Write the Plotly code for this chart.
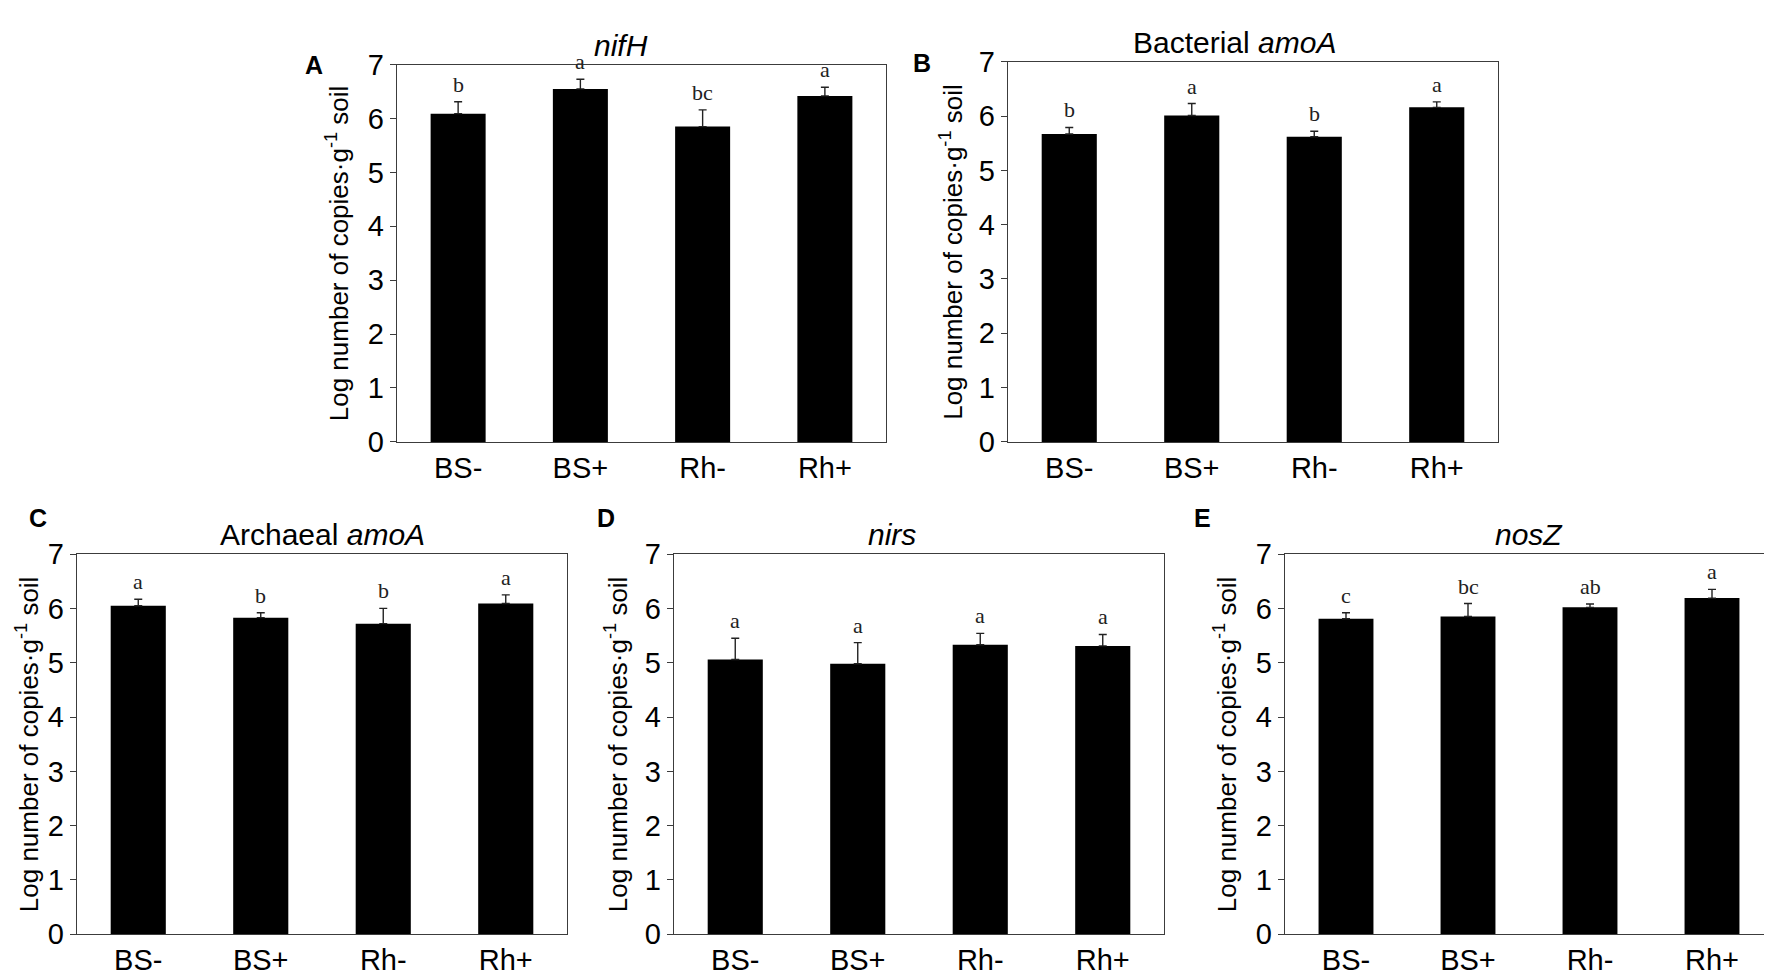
import plotly.graph_objects as go

categories = ["BS-", "BS+", "Rh-", "Rh+"]

nifh_mean = [6.09, 6.55, 5.85, 6.42]
nifh_err = [0.22, 0.18, 0.31, 0.16]
nifh_letters = ["b", "a", "bc", "a"]

bac_amoa_mean = [5.67, 6.01, 5.62, 6.16]
bac_amoa_err = [0.12, 0.22, 0.10, 0.10]
bac_amoa_letters = ["b", "a", "b", "a"]

arc_amoa_mean = [6.05, 5.83, 5.72, 6.09]
arc_amoa_err = [0.12, 0.09, 0.28, 0.16]
arc_amoa_letters = ["a", "b", "b", "a"]

nirs_mean = [5.06, 4.98, 5.33, 5.31]
nirs_err = [0.39, 0.39, 0.21, 0.21]
nirs_letters = ["a", "a", "a", "a"]

nosz_mean = [5.81, 5.85, 6.02, 6.19]
nosz_err = [0.11, 0.24, 0.06, 0.16]
nosz_letters = ["c", "bc", "ab", "a"]

W, H = 1772, 980
SANS = "Liberation Sans, Arial, sans-serif"
SERIF = "Liberation Serif, Times New Roman, serif"
AXIS_COLOR = "#3c3c3c"
y_title = "Log number of copies·g<sup>-1</sup> soil"

# panel: (letter, title, means, errs, letters, box px [x0, x1, y0, y1], title x-shift, y-title shift, letter pos px)
panels = [
    ("A", "<i>nifH</i>", nifh_mean, nifh_err, nifh_letters, (389, 878, 42, 432), -21, -60, (295, 26)),
    ("B", "Bacterial <i>amoA</i>", bac_amoa_mean, bac_amoa_err, bac_amoa_letters, (1000, 1490, 39, 432), -19, -56, (914, 24)),
    ("C", "Archaeal <i>amoA</i>", arc_amoa_mean, arc_amoa_err, arc_amoa_letters, (69, 559, 548, 941), 0, -50, (19, 511)),
    ("D", "<i>nirs</i>", nirs_mean, nirs_err, nirs_letters, (666, 1156, 548, 941), -27, -58, (598, 511)),
    ("E", "<i>nosZ</i>", nosz_mean, nosz_err, nosz_letters, (1277, 1765, 548, 941), 0, -60, (1205, 511)),
]

fig = go.Figure()
layout = {}
annotations = []

for i, (tag, title, means, errs, letters, box, title_shift, ytitle_shift, tag_pos) in enumerate(panels):
    n = "" if i == 0 else str(i + 1)
    xref, yref = "x" + n, "y" + n
    x0, x1, y0, y1 = box

    fig.add_trace(go.Bar(
        x=categories,
        y=means,
        xaxis=xref,
        yaxis=yref,
        marker=dict(color="black", line=dict(width=0)),
        error_y=dict(
            type="data",
            array=errs,
            arrayminus=[0] * len(errs),
            symmetric=False,
            color="#222222",
            thickness=1.4,
            width=4,
        ),
        showlegend=False,
    ))

    layout["xaxis" + n] = dict(
        domain=[x0 / W, x1 / W],
        anchor=yref,
        showline=True, mirror=True, linecolor=AXIS_COLOR, linewidth=1.4,
        ticks="", showgrid=False,
        tickfont=dict(family=SANS, size=29, color="black"),
    )
    layout["yaxis" + n] = dict(
        domain=[1 - y1 / H, 1 - y0 / H],
        anchor=xref,
        range=[0, 7], dtick=1,
        showline=True, mirror=True, linecolor=AXIS_COLOR, linewidth=1.4,
        ticks="outside", ticklen=6, tickcolor=AXIS_COLOR, tickwidth=1.4,
        showgrid=False, zeroline=False,
        tickfont=dict(family=SANS, size=29, color="black"),
    )

    # significance letters above each error bar
    for cat, m, e, lab in zip(categories, means, errs, letters):
        annotations.append(dict(
            x=cat, y=m + e, xref=xref, yref=yref,
            text=lab, showarrow=False, yanchor="bottom", yshift=3,
            font=dict(family=SERIF, size=22, color="#222222"),
        ))

    # panel title
    annotations.append(dict(
        x=0.5, y=1, xref=xref + " domain", yref=yref + " domain",
        text=title, showarrow=False, yanchor="bottom", xshift=title_shift, yshift=1,
        font=dict(family=SANS, size=30, color="black"),
    ))
    # y axis title
    annotations.append(dict(
        x=0, y=0.5, xref=xref + " domain", yref=yref + " domain",
        text=y_title, showarrow=False, textangle=-90, xanchor="center",
        xshift=ytitle_shift,
        font=dict(family=SANS, size=26, color="black"),
    ))
    # panel letter
    annotations.append(dict(
        x=tag_pos[0] / W, y=1 - tag_pos[1] / H, xref="paper", yref="paper",
        text="<b>" + tag + "</b>", showarrow=False,
        font=dict(family=SANS, size=25, color="black"),
    ))

fig.update_layout(
    width=W, height=H,
    margin=dict(l=0, r=0, t=0, b=0),
    paper_bgcolor="white", plot_bgcolor="white",
    bargap=0.55,
    annotations=annotations,
    **layout,
)

fig.write_html("out.html")
